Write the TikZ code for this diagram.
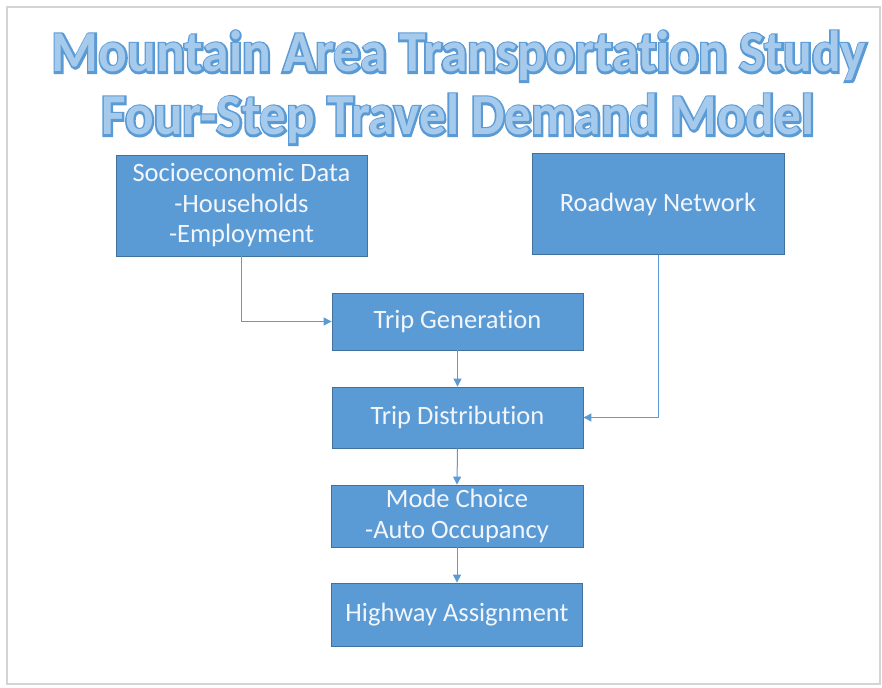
\documentclass[tikz,border=0pt]{standalone}
\usepackage{fontspec}
\setmainfont{Carlito}[Ligatures={NoCommon}]
\newfontfamily\ttlthick{Carlito}[Ligatures={NoCommon},BoldFeatures={RawFeature={embolden=7}}]
\newfontfamily\ttlfill{Carlito}[Ligatures={NoCommon}]
\usetikzlibrary{arrows.meta}
\definecolor{boxblue}{HTML}{5B9BD5}
\definecolor{boxedge}{HTML}{41719C}
\definecolor{ttlout}{HTML}{5B9BD5}
\definecolor{ttlin}{HTML}{A6CAEC}
\definecolor{framegrey}{HTML}{D4D4D4}
\definecolor{boxtext}{HTML}{F2F6FC}
\begin{document}
\begin{tikzpicture}[x=1pt,y=-1pt,
  stepbox/.style={draw=boxedge,line width=0.8pt,fill=boxblue,text=boxtext,
    inner sep=0pt,align=center,font=\fontsize{26.5}{30.5}\selectfont},
  link/.style={draw=boxblue,line width=1pt,-{Triangle[length=8pt,width=8pt]}},
  ttlA/.style={inner sep=0pt,anchor=base,text=ttlout},
  ttlB/.style={inner sep=0pt,anchor=base,text=ttlin}]
\useasboundingbox (0,0) rectangle (882,687);
\fill[white] (0,0) rectangle (882,687);
\draw[framegrey,line width=1.5pt] (7,7) rectangle (880,684);
% title
\node[ttlA] (t1o) at (459,72) {\resizebox{814pt}{\height}{\fontsize{58}{58}\ttlthick\bfseries Mountain Area Transportation Study}};
\node[ttlB] (t1i) at (459,72) {\resizebox{814pt}{\height}{\fontsize{58}{58}\ttlfill\bfseries Mountain Area Transportation Study}};
\node[ttlA] (t2o) at (458,135) {\resizebox{713pt}{\height}{\fontsize{58}{58}\ttlthick\bfseries Four-Step Travel Demand Model}};
\node[ttlB] (t2i) at (458,135) {\resizebox{713pt}{\height}{\fontsize{58}{58}\ttlfill\bfseries Four-Step Travel Demand Model}};
% boxes
\node[stepbox,minimum width=251pt,minimum height=101pt] (socio) at (241.5,205.5) {Socioeconomic Data\\-Households\\-Employment};
\node[stepbox,minimum width=252pt,minimum height=101pt] (road) at (658,204) {Roadway Network};
\node[stepbox,minimum width=251pt,minimum height=57pt] (gen) at (457.5,321.5) {Trip Generation};
\node[stepbox,minimum width=251pt,minimum height=61pt] (dist) at (457.5,417.5) {Trip Distribution};
\node[stepbox,minimum width=252pt,minimum height=62pt] (mode) at (457,516) {Mode Choice\\-Auto Occupancy};
\node[stepbox,minimum width=251pt,minimum height=63pt] (high) at (457,614.5) {Highway Assignment};
% connectors
\draw[link] (socio.south) |- (gen.west);
\draw[link] (road.south) |- (dist.east);
\draw[link] (gen.south) -- (dist.north);
\draw[link] (dist.south) -- (mode.north);
\draw[link] (mode.south) -- (high.north);
\end{tikzpicture}
\end{document}
